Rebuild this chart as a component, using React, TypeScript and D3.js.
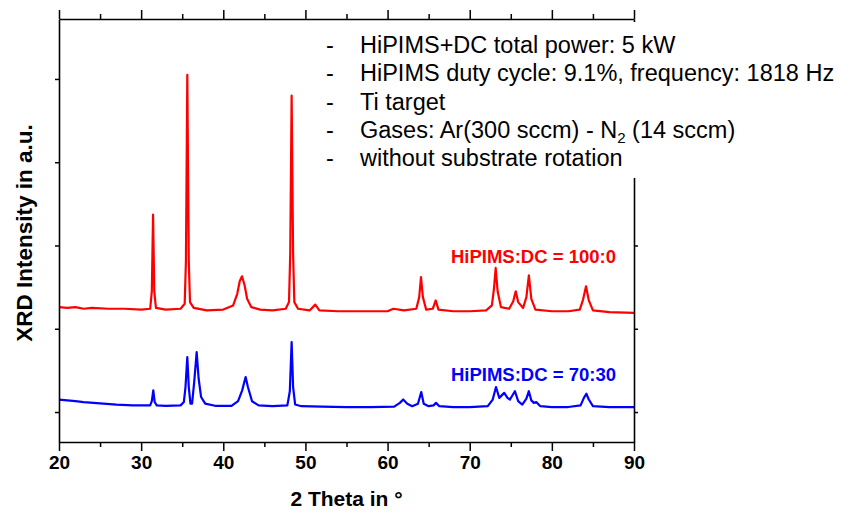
import React, { useEffect, useRef } from 'react';
import * as d3 from 'd3';

// tick values
const xTickValues = [20, 30, 40, 50, 60, 70, 80, 90];
const xMinorTicks = [25, 35, 45, 55, 65, 75, 85];
const yTickValues = [0, 1, 2, 3, 4];

// [2theta, intensity (a.u., offset)]
const red100_0: [number, number][] = [
  [20, 1.26], [21, 1.25], [22, 1.26], [23, 1.24], [24, 1.25], [26, 1.24], [28, 1.24], [30, 1.23],
  [31.1, 1.24], [31.3, 1.45], [31.45, 2.37], [31.6, 1.45], [31.8, 1.25], [33, 1.23], [34.8, 1.24],
  [35.3, 1.3], [35.45, 1.8], [35.62, 4.05], [35.8, 1.8], [35.95, 1.32], [36.4, 1.25], [38, 1.22],
  [40, 1.23], [41.2, 1.28], [41.7, 1.42], [42.0, 1.57], [42.28, 1.63], [42.6, 1.52], [42.9, 1.36],
  [43.4, 1.26], [44.5, 1.23], [46, 1.22], [47.6, 1.24], [48.0, 1.32], [48.15, 1.9], [48.32, 3.8],
  [48.5, 1.9], [48.65, 1.32], [49.1, 1.24], [50.5, 1.22], [51.2, 1.29], [51.7, 1.22], [54, 1.21],
  [57, 1.21], [60, 1.21], [60.7, 1.24], [62, 1.22], [63.5, 1.24], [63.85, 1.38], [64.07, 1.62],
  [64.3, 1.38], [64.7, 1.23], [65.5, 1.24], [65.86, 1.34], [66.2, 1.23], [68, 1.21], [70, 1.21],
  [72, 1.22], [72.7, 1.28], [72.95, 1.48], [73.16, 1.73], [73.4, 1.45], [73.8, 1.26], [74.8, 1.24],
  [75.3, 1.33], [75.6, 1.45], [75.9, 1.32], [76.5, 1.25], [76.9, 1.38], [77.2, 1.64], [77.5, 1.36],
  [78.0, 1.23], [80, 1.21], [82, 1.21], [83.4, 1.23], [83.8, 1.35], [84.16, 1.51], [84.5, 1.34],
  [85, 1.22], [87, 1.2], [90, 1.19],
];

const blue70_30: [number, number][] = [
  [20, 0.15], [21, 0.14], [22, 0.13], [23, 0.12], [25, 0.105], [27, 0.09], [29, 0.08], [31.1, 0.08],
  [31.3, 0.13], [31.48, 0.26], [31.65, 0.12], [31.9, 0.08], [33, 0.075], [34.8, 0.08], [35.2, 0.12],
  [35.4, 0.3], [35.62, 0.66], [35.8, 0.3], [36.0, 0.1], [36.2, 0.1], [36.45, 0.35], [36.76, 0.72],
  [37.0, 0.4], [37.3, 0.18], [37.8, 0.1], [39, 0.075], [41, 0.075], [41.8, 0.13], [42.3, 0.26],
  [42.72, 0.42], [43.0, 0.3], [43.5, 0.13], [44.3, 0.08], [46, 0.07], [47.8, 0.08], [48.1, 0.25],
  [48.32, 0.84], [48.5, 0.3], [48.75, 0.09], [49.5, 0.07], [52, 0.065], [55, 0.06], [58, 0.06],
  [60.8, 0.065], [61.5, 0.11], [61.9, 0.15], [62.4, 0.1], [63.0, 0.07], [63.7, 0.1], [64.1, 0.24],
  [64.4, 0.1], [65.0, 0.07], [65.6, 0.08], [65.9, 0.11], [66.3, 0.07], [68, 0.06], [70, 0.06],
  [72.2, 0.07], [72.8, 0.15], [73.2, 0.3], [73.6, 0.17], [73.9, 0.2], [74.2, 0.23], [74.6, 0.17],
  [74.9, 0.15], [75.5, 0.25], [75.9, 0.13], [76.4, 0.09], [76.9, 0.16], [77.2, 0.25], [77.5, 0.14],
  [77.8, 0.11], [78.1, 0.12], [78.6, 0.07], [80, 0.06], [82, 0.06], [83.5, 0.08], [83.9, 0.17],
  [84.2, 0.22], [84.5, 0.15], [85, 0.07], [87, 0.06], [90, 0.06],
];

const notes = [
  'HiPIMS+DC total power: 5 kW',
  'HiPIMS duty cycle: 9.1%, frequency: 1818 Hz',
  'Ti target',
  'GASES',
  'without substrate rotation',
];

const FONT = '"Liberation Sans", Arial, sans-serif';

const App = () => {
  const svgRef = useRef(null);

  useEffect(() => {
    const root = d3.select(svgRef.current);
    root.selectAll('*').remove();

    const margin = { top: 19, right: 216, bottom: 71, left: 59 };
    const width = 850 - margin.left - margin.right;
    const height = 513 - margin.top - margin.bottom;

    const svg = root.append('g')
      .attr('transform', 'translate(' + margin.left + ',' + margin.top + ')');

    const x = d3.scaleLinear().domain([20, 90]).range([0, width]);
    const y = d3.scaleLinear().domain([-0.36, 4.72]).range([height, 0]);

    const line = d3.line<[number, number]>()
      .x(d => x(d[0]))
      .y(d => y(d[1]));

    svg.append('path')
      .datum(red100_0)
      .attr('fill', 'none')
      .attr('stroke', '#ff0000')
      .attr('stroke-width', 2.2)
      .attr('stroke-linejoin', 'round')
      .attr('d', line);

    svg.append('path')
      .datum(blue70_30)
      .attr('fill', 'none')
      .attr('stroke', '#0000ff')
      .attr('stroke-width', 2.2)
      .attr('stroke-linejoin', 'round')
      .attr('d', line);

    // axes
    const styleAxis = (g, keepDomain = true) => {
      g.selectAll('line').attr('stroke', '#000').attr('stroke-width', 1.5);
      g.select('.domain').attr('stroke', '#000').attr('stroke-width', 1.6);
      if (!keepDomain) g.select('.domain').remove();
    };

    const bottom = svg.append('g')
      .attr('transform', 'translate(0,' + height + ')')
      .call(d3.axisBottom(x).tickValues(xTickValues).tickSize(9).tickSizeOuter(0).tickPadding(5).tickFormat(d3.format('d')));
    styleAxis(bottom);
    bottom.attr('font-family', FONT).attr('font-size', 19).attr('font-weight', 'bold');
    bottom.selectAll('text').attr('fill', '#000');

    const bottomMinor = svg.append('g')
      .attr('transform', 'translate(0,' + height + ')')
      .call(d3.axisBottom(x).tickValues(xMinorTicks).tickSize(5).tickFormat(() => ''));
    styleAxis(bottomMinor, false);

    const top = svg.append('g')
      .call(d3.axisTop(x).tickValues(xTickValues).tickSize(9).tickSizeOuter(0).tickFormat(() => ''));
    styleAxis(top);
    const topMinor = svg.append('g')
      .call(d3.axisTop(x).tickValues(xMinorTicks).tickSize(5).tickFormat(() => ''));
    styleAxis(topMinor, false);

    const left = svg.append('g')
      .call(d3.axisLeft(y).tickValues(yTickValues).tickSize(4).tickSizeOuter(0).tickFormat(() => ''));
    styleAxis(left);

    const right = svg.append('g')
      .attr('transform', 'translate(' + width + ',0)')
      .call(d3.axisRight(y).tickValues(yTickValues).tickSize(4).tickSizeOuter(0).tickFormat(() => ''));
    styleAxis(right);

    // axis titles
    root.append('text')
      .attr('x', margin.left + width / 2)
      .attr('y', 506)
      .attr('text-anchor', 'middle')
      .attr('font-family', FONT)
      .attr('font-size', 21)
      .attr('font-weight', 'bold')
      .text('2 Theta in °');

    root.append('text')
      .attr('transform', 'translate(32,233) rotate(-90)')
      .attr('text-anchor', 'middle')
      .attr('font-family', FONT)
      .attr('font-size', 22.5)
      .attr('font-weight', 'bold')
      .text('XRD Intensity in a.u.');

    // series labels
    svg.append('text')
      .attr('x', x(90) - 18)
      .attr('y', y(1.79))
      .attr('text-anchor', 'end')
      .attr('font-family', FONT)
      .attr('font-size', 18.5)
      .attr('font-weight', 'bold')
      .attr('fill', '#ff0000')
      .text('HiPIMS:DC = 100:0');

    svg.append('text')
      .attr('x', x(90) - 18)
      .attr('y', y(0.37))
      .attr('text-anchor', 'end')
      .attr('font-family', FONT)
      .attr('font-size', 18.5)
      .attr('font-weight', 'bold')
      .attr('fill', '#0000ff')
      .text('HiPIMS:DC = 70:30');

    // conditions box (white background over the frame)
    const box = root.append('g');
    box.append('rect')
      .attr('x', 316)
      .attr('y', 22)
      .attr('width', 534)
      .attr('height', 156)
      .attr('fill', '#fff');

    notes.forEach((n, i) => {
      const by = 53 + i * 28.3;
      box.append('text')
        .attr('x', 326)
        .attr('y', by)
        .attr('font-family', FONT)
        .attr('font-size', 23.5)
        .text('-');
      const t = box.append('text')
        .attr('x', 360)
        .attr('y', by)
        .attr('font-family', FONT)
        .attr('font-size', 23.5);
      if (n === 'GASES') {
        t.append('tspan').text('Gases: Ar(300 sccm) - N');
        t.append('tspan').attr('font-size', 15).attr('dy', 5).text('2');
        t.append('tspan').attr('dy', -5).text(' (14 sccm)');
      } else {
        t.text(n);
      }
    });
  }, []);

  return (
    <svg
      ref={svgRef}
      width={850}
      height={513}
      style={{ position: 'absolute', left: 0, top: 0, background: '#fff' }}
    />
  );
};

export default App;
